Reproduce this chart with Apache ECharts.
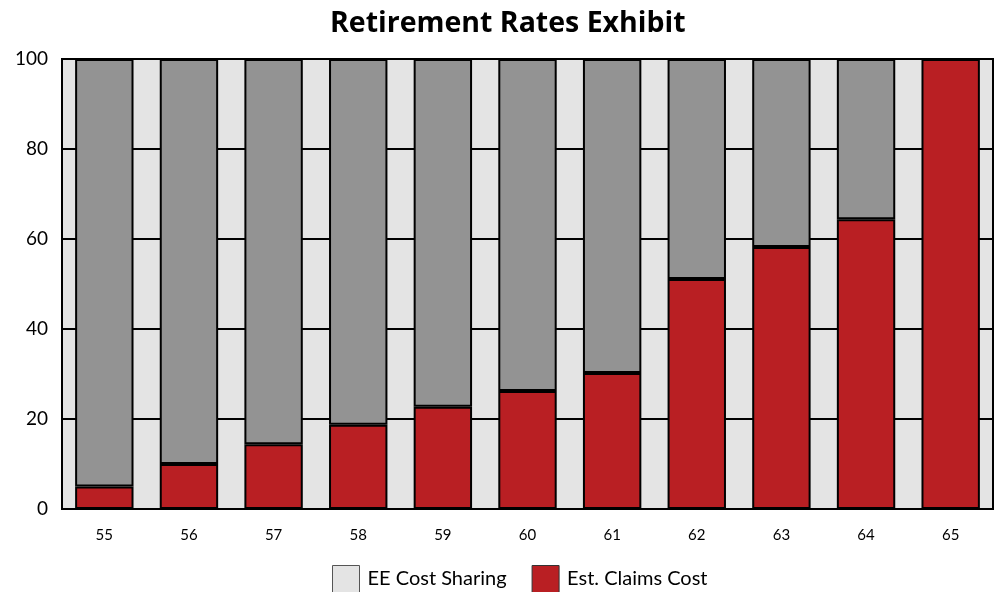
<!DOCTYPE html>
<html>
<head>
<meta charset="utf-8">
<script src="https://cdn.jsdelivr.net/npm/echarts@6/dist/echarts.min.js"></script>
<style>
  html, body { margin: 0; padding: 0; background: #fff; }
  #chart { width: 999px; height: 592px; }
</style>
</head>
<body>
<div id="chart"></div>
<script>
// Retirement ages on the x axis
const ages = ['55', '56', '57', '58', '59', '60', '61', '62', '63', '64', '65'];
// Share of cost (percent) at each age
const claimsCost = [5, 10, 14.4, 18.7, 22.7, 26.2, 30.2, 51.1, 58.2, 64.4, 100];
const costSharing = [95, 90, 85.6, 81.3, 77.3, 73.8, 69.8, 48.9, 41.8, 35.6, 0];
const yTicks = [0, 20, 40, 60, 80, 100];

const FONT = 'Lato, "Open Sans", sans-serif';

const chart = echarts.init(document.getElementById('chart'), null, { renderer: 'canvas' });
chart.setOption({
  animation: false,
  title: {
    text: 'Retirement Rates Exhibit',
    left: 325,
    top: 4,
    textStyle: { fontFamily: '"Open Sans", sans-serif', fontWeight: 'bold', fontSize: 28.5, color: '#000' }
  },
  legend: {
    top: 560,
    left: 327,
    itemWidth: 27,
    itemHeight: 27,
    itemGap: 25,
    icon: 'rect',
    textStyle: { fontFamily: FONT, fontSize: 20, color: '#000', padding: [0, 0, 0, 3] },
    data: [
      { name: 'EE Cost Sharing', itemStyle: { color: '#e4e4e4', borderColor: '#555', borderWidth: 1 } },
      { name: 'Est. Claims Cost', itemStyle: { color: '#b91f23', borderColor: '#333', borderWidth: 1 } }
    ]
  },
  grid: {
    left: 62, right: 6, top: 59, bottom: 83,
    show: true,
    backgroundColor: '#e4e4e4',
    borderColor: '#000',
    borderWidth: 2
  },
  xAxis: {
    type: 'category',
    data: ages,
    axisLine: { show: true, lineStyle: { color: '#000', width: 2 } },
    axisTick: { show: false },
    axisLabel: { fontFamily: FONT, fontSize: 15, color: '#000', margin: 19 }
  },
  yAxis: {
    type: 'value',
    min: yTicks[0],
    max: yTicks[yTicks.length - 1],
    interval: yTicks[1] - yTicks[0],
    axisLine: { show: true, lineStyle: { color: '#000', width: 2 } },
    axisTick: { show: false },
    splitLine: { show: true, lineStyle: { color: '#000', width: 2 } },
    axisLabel: { fontFamily: FONT, fontSize: 19, color: '#000', margin: 14 }
  },
  series: [
    {
      name: 'Est. Claims Cost',
      type: 'bar',
      stack: 'total',
      data: claimsCost,
      barCategoryGap: '31%',
      itemStyle: { color: '#b91f23', borderColor: '#000', borderWidth: 2 }
    },
    {
      name: 'EE Cost Sharing',
      type: 'bar',
      stack: 'total',
      data: costSharing,
      barCategoryGap: '31%',
      itemStyle: { color: '#939393', borderColor: '#000', borderWidth: 2 }
    }
  ]
});
</script>
</body>
</html>
